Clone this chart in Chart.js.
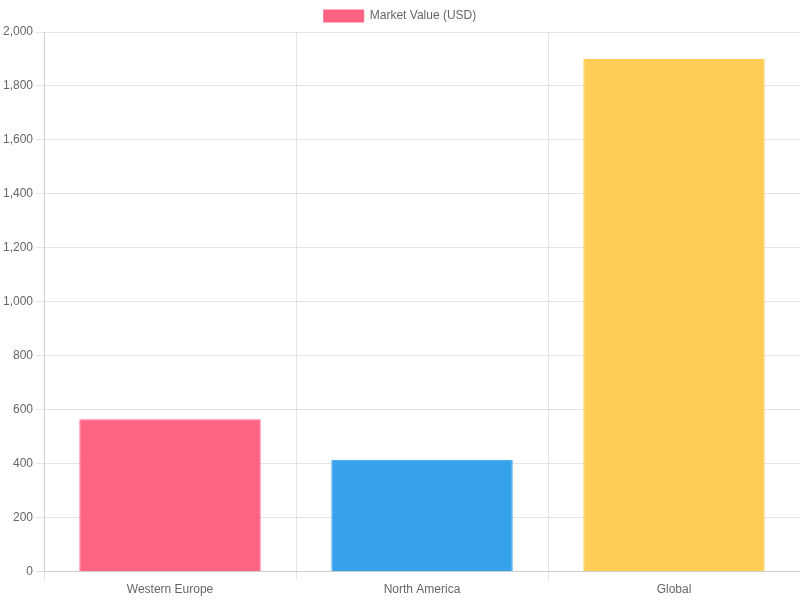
<!DOCTYPE html>
<html>
<head>
<meta charset="utf-8">
<script src="https://cdn.jsdelivr.net/npm/chart.js@4"></script>
<style>
  html, body { margin: 0; padding: 0; background: #fff; }
  #wrap { width: 800px; height: 600px; }
</style>
</head>
<body>
<div id="wrap"><canvas id="chart"></canvas></div>
<script>
// DATA
const regions = ['Western Europe', 'North America', 'Global'];
const marketValues = [565, 415, 1900];
const barColors = ['rgb(255, 99, 132)', 'rgb(54, 162, 235)', 'rgb(255, 205, 86)'];

const ctx = document.getElementById('chart').getContext('2d');
const marketChart = new Chart(ctx, {
    type: 'bar',
    data: {
        labels: regions,
        datasets: [{
            label: 'Market Value (USD)',
            data: marketValues,
            backgroundColor: barColors,
            borderColor: barColors,
            borderWidth: 1
        }]
    },
    options: {
        responsive: true,
        maintainAspectRatio: false,
        animation: false,
        plugins: {
            legend: { display: true }
        },
        scales: {
            y: {
                beginAtZero: true,
                min: 0,
                max: 2000,
                ticks: { stepSize: 200 }
            }
        }
    }
});
</script>
</body>
</html>
